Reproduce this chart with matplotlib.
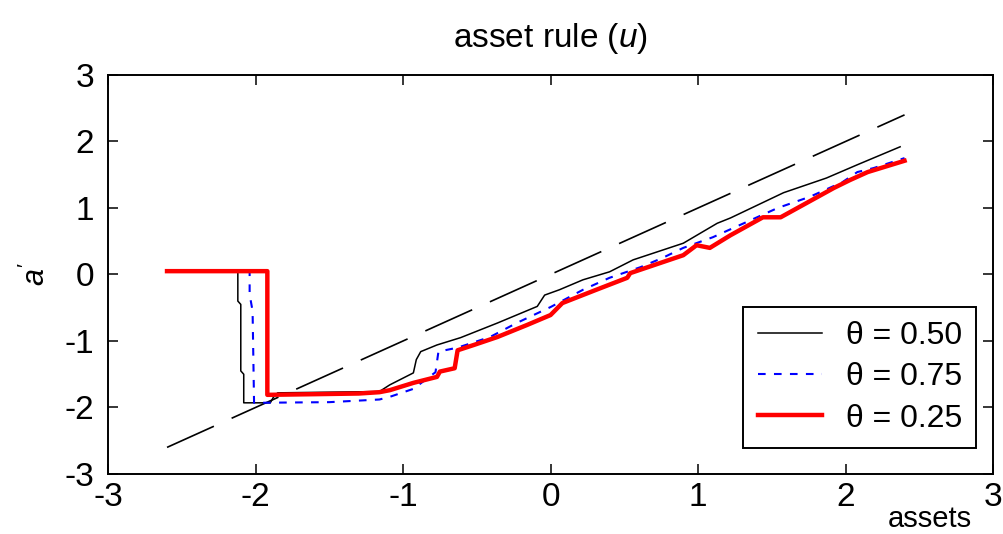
import matplotlib
matplotlib.use('Agg')
import matplotlib.pyplot as plt

plt.rcParams['font.family'] = ['Liberation Sans', 'DejaVu Sans']
plt.rcParams['mathtext.fontset'] = 'custom'
plt.rcParams['mathtext.rm'] = 'Liberation Sans'
plt.rcParams['mathtext.it'] = 'Liberation Sans:italic'
plt.rcParams['lines.scale_dashes'] = False
plt.rcParams['axes.unicode_minus'] = False

# 45 degree reference line
x45 = [-2.6, 2.4]
y45 = [-2.6, 2.4]

# theta = 0.50
x_050 = [-2.6, -2.12, -2.12, -2.10, -2.10, -2.08, -2.08, -1.90, -1.88, -1.85, -1.5,
         -1.16, -1.09, -0.93, -0.91, -0.88, -0.77, -0.61, -0.36, -0.09, -0.04, 0.06,
         0.22, 0.40, 0.56, 0.90, 1.13, 1.22, 1.58, 1.87, 2.08, 2.37]
y_050 = [0.05, 0.05, -0.40, -0.45, -1.45, -1.50, -1.93, -1.93, -1.85, -1.78, -1.77,
         -1.76, -1.66, -1.48, -1.28, -1.16, -1.06, -0.95, -0.73, -0.48, -0.31, -0.23,
         -0.08, 0.04, 0.22, 0.47, 0.77, 0.85, 1.23, 1.45, 1.65, 1.92]

# theta = 0.75
x_075 = [-2.6, -2.04, -2.04, -2.02, -2.01, -1.5, -1.16, -1.09, -0.93, -0.78, -0.76,
         -0.63, -0.41, -0.23, 0.0, 0.22, 0.40, 0.61, 0.76, 0.90, 1.10, 1.54, 1.76,
         1.98, 2.08, 2.19, 2.40]
y_075 = [0.05, 0.05, -0.30, -0.55, -1.93, -1.92, -1.88, -1.84, -1.72, -1.47, -1.16,
         -1.10, -0.94, -0.73, -0.49, -0.23, -0.05, 0.11, 0.25, 0.40, 0.56, 1.00, 1.17,
         1.39, 1.54, 1.60, 1.75]

# theta = 0.25
x_025 = [-2.6, -1.92, -1.92, -1.6, -1.3, -1.16, -1.09, -0.93, -0.77, -0.75, -0.65,
         -0.63, -0.52, -0.36, -0.16, 0.0, 0.08, 0.31, 0.52, 0.54, 0.90, 0.99, 1.08,
         1.22, 1.44, 1.56, 1.92, 2.03, 2.15, 2.40]
y_025 = [0.05, 0.05, -1.81, -1.80, -1.79, -1.77, -1.74, -1.63, -1.54, -1.46, -1.41,
         -1.14, -1.06, -0.94, -0.76, -0.61, -0.43, -0.23, -0.05, 0.02, 0.29, 0.44, 0.40,
         0.59, 0.86, 0.86, 1.30, 1.42, 1.54, 1.71]

labels = ['\u03b8 = 0.50', '\u03b8 = 0.75', '\u03b8 = 0.25']
ticks = [-3, -2, -1, 0, 1, 2, 3]

fig = plt.figure(figsize=(10.04, 5.34), dpi=100)
ax = fig.add_axes([0.1076, 0.1124, 0.8815, 0.7472])

ax.plot(x45, y45, color='black', lw=1.2, dashes=(37, 14))
l1, = ax.plot(x_050, y_050, color='black', lw=1.1)
l2, = ax.plot(x_075, y_075, color='blue', lw=1.5, dashes=(5.5, 6))
l3, = ax.plot(x_025, y_025, color='red', lw=3.2)

ax.set_xlim(-3, 3)
ax.set_ylim(-3, 3)
ax.set_xticks(ticks)
ax.set_yticks(ticks)
ax.tick_params(direction='in', length=7, width=1.1, top=True, right=True,
               labelsize=24)
ax.tick_params(axis='x', pad=6)
ax.tick_params(axis='y', pad=10)
for s in ax.spines.values():
    s.set_linewidth(1.4)

ax.set_title('asset rule ($u$)', fontsize=24, pad=20)
fig.text(0.036, 0.487, "$a'$", rotation=90, fontsize=22, ha='center', va='center')
fig.text(0.926, 0.014, 'assets', fontsize=21, ha='center', va='baseline')

leg = ax.legend([l1, l2, l3], labels, loc='lower right',
                bbox_to_anchor=(0.981, 0.065), fontsize=23, frameon=True,
                fancybox=False, edgecolor='black', framealpha=1,
                handlelength=2.0, handletextpad=0.75, labelspacing=0.35,
                borderpad=0.45, borderaxespad=0)
leg.get_frame().set_linewidth(1.4)

fig.savefig('out.png', dpi=100)
